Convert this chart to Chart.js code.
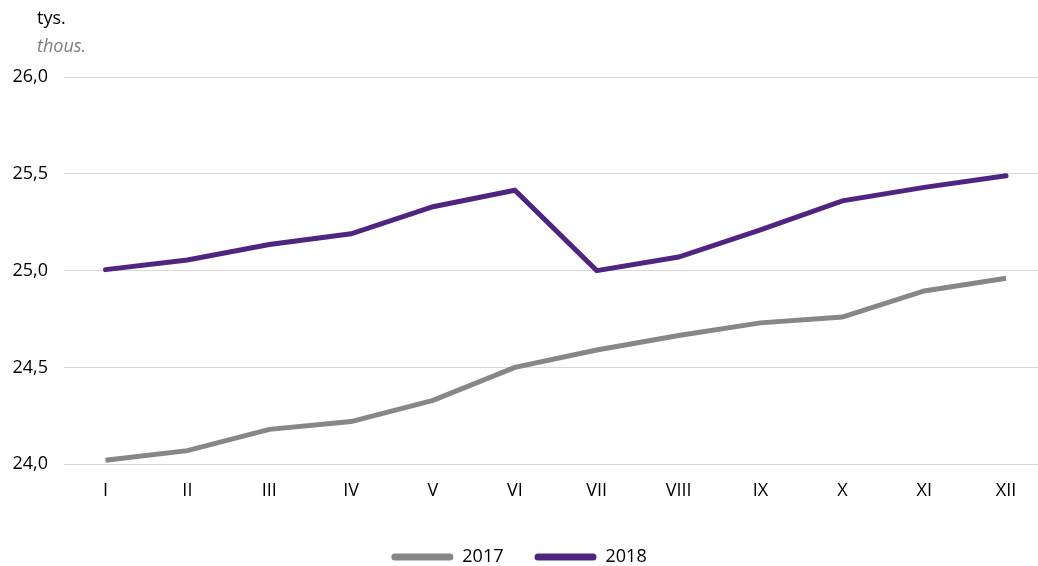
<!DOCTYPE html>
<html>
<head>
<meta charset="utf-8">
<script src="https://cdn.jsdelivr.net/npm/chart.js@4/dist/chart.umd.min.js"></script>
<style>
  html, body { margin: 0; padding: 0; background: #fff; overflow: hidden; }
  #wrap { width: 1038px; height: 566px; position: relative; }
</style>
</head>
<body>
<div id="wrap"><canvas id="c" width="1038" height="566"></canvas></div>
<script>
const categories = ['I', 'II', 'III', 'IV', 'V', 'VI', 'VII', 'VIII', 'IX', 'X', 'XI', 'XII'];
const values2017 = [24.02, 24.07, 24.18, 24.22, 24.33, 24.50, 24.59, 24.665, 24.73, 24.76, 24.895, 24.96];
const values2018 = [25.005, 25.055, 25.135, 25.19, 25.33, 25.415, 25.0, 25.07, 25.21, 25.36, 25.43, 25.49];
const yTicks = [24.0, 24.5, 25.0, 25.5, 26.0];
const unitMain = 'tys.';
const unitSub = 'thous.';

const FONT = "'Open Sans', 'Noto Sans', sans-serif";

const unitPlugin = {
  id: 'unitLabel',
  afterDraw(chart) {
    const ctx = chart.ctx;
    ctx.save();
    ctx.textAlign = 'left';
    ctx.textBaseline = 'alphabetic';
    ctx.fillStyle = '#000';
    ctx.font = "18px " + FONT;
    ctx.fillText(unitMain, 37, 24);
    ctx.fillStyle = '#7f7f7f';
    ctx.font = "italic 18px " + FONT;
    ctx.fillText(unitSub, 37, 52);
    ctx.restore();
  }
};

new Chart(document.getElementById('c'), {
  type: 'line',
  data: {
    datasets: [
      {
        label: '2017',
        data: values2017.map((v, i) => ({ x: i, y: v })),
        borderColor: '#878787',
        backgroundColor: '#878787',
        borderWidth: 5,
        borderCapStyle: 'butt',
        pointRadius: 0,
        tension: 0
      },
      {
        label: '2018',
        data: values2018.map((v, i) => ({ x: i, y: v })),
        borderColor: '#502582',
        backgroundColor: '#502582',
        borderWidth: 5,
        borderCapStyle: 'round',
        pointRadius: 0,
        tension: 0
      }
    ]
  },
  options: {
    responsive: false,
    animation: false,
    layout: { padding: { top: 77, right: 0, bottom: -10, left: 0 } },
    plugins: {
      title: { display: false },
      tooltip: { enabled: false },
      legend: {
        position: 'bottom',
        labels: {
          boxWidth: 62,
          boxHeight: 7,
          useBorderRadius: true,
          borderRadius: 3.5,
          padding: 31,
          color: '#000',
          font: { family: FONT, size: 18 },
          generateLabels(chart) {
            return Chart.defaults.plugins.legend.labels.generateLabels(chart).map(l => Object.assign(l, { lineWidth: 0 }));
          }
        }
      }
    },
    scales: {
      x: {
        type: 'linear',
        min: -0.507,
        max: 11.39,
        grid: { display: false },
        border: { display: false },
        title: { display: true, text: '', font: { size: 1 }, padding: { top: 6, bottom: 0 } },
        afterBuildTicks(scale) {
          scale.ticks = categories.map((c, i) => ({ value: i }));
        },
        ticks: {
          autoSkip: false,
          maxRotation: 0,
          padding: 8,
          color: '#000',
          font: { family: FONT, size: 18 },
          callback: (v) => categories[Math.round(v)] ?? ''
        }
      },
      y: {
        min: 24,
        max: 26,
        afterBuildTicks(scale) {
          scale.ticks = yTicks.map(v => ({ value: v }));
        },
        afterFit(scale) { scale.width = 64; },
        grid: { color: '#d9d9d9', lineWidth: 1, drawTicks: false },
        border: { display: false },
        ticks: {
          padding: 16,
          color: '#000',
          font: { family: FONT, size: 18 },
          callback: (v) => v.toFixed(1).replace('.', ',')
        }
      }
    }
  },
  plugins: [unitPlugin]
});
</script>
</body>
</html>
